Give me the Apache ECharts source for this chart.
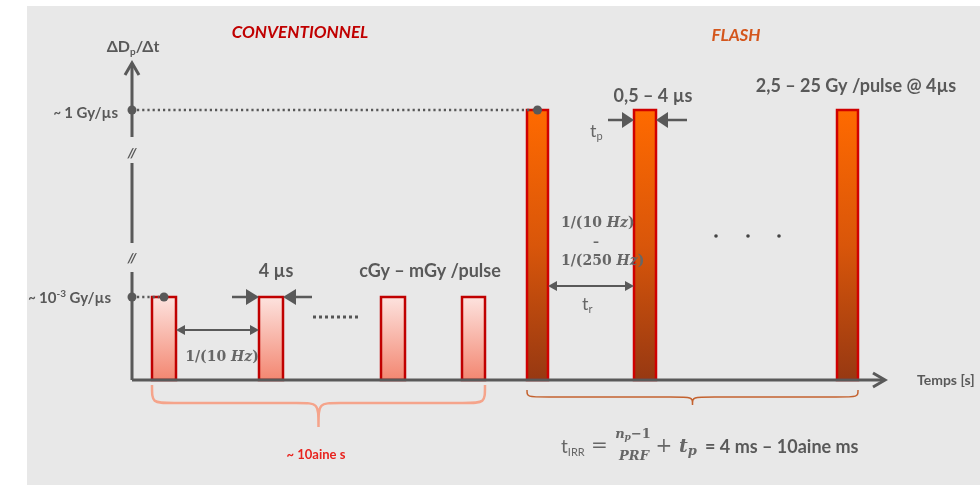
<!DOCTYPE html>
<html>
<head>
<meta charset="utf-8">
<script src="https://cdn.jsdelivr.net/npm/echarts@6/dist/echarts.min.js"></script>
<style>
  html, body { margin: 0; background: #fff; }
  #main { width: 980px; height: 485px; }
</style>
</head>
<body>
<div id="main"></div>
<script>
// pulses: [debut, fin] sur l'axe du temps (unites schematiques)
var convPulses = [[2.0, 4.4], [12.7, 15.1], [24.9, 27.3], [33.0, 35.3]];
var flashPulses = [[39.5, 41.6], [50.2, 52.4], [70.5, 72.6]];
// niveaux de debit de dose (unites schematiques)
var convLevel = 8.3;
var flashLevel = 27.0;
var yTickLabels = ['~ 1 Gy/µs', '~ 10-3 Gy/µs'];
// segments visibles de l'axe vertical (coupures //)
var yAxisSegments = [[0, 10.8], [13.7, 21.7], [24.3, 31.7]];
var yBreaks = [12.2, 22.7];
var xMax = 75.3, yMax = 31.7;

var GREY = '#595959';
var FONT = 'Lato, "Open Sans", sans-serif';
var MATH = '"DejaVu Serif", serif';

var myChart = echarts.init(document.getElementById('main'), null, { renderer: 'canvas' });

function withLevel(pulses, level) {
    return pulses.map(function (p) { return [p[0], p[1], level]; });
}

function pulseRender(gradient, stroke) {
    return function (params, api) {
        var tl = api.coord([api.value(0), api.value(2)]);
        var br = api.coord([api.value(1), 0]);
        return {
            type: 'rect',
            shape: { x: tl[0], y: tl[1], width: br[0] - tl[0], height: br[1] - tl[1] },
            style: { fill: gradient, stroke: stroke, lineWidth: 2.5 }
        };
    };
}

function chevron(tip, dir, len, half) {
    // dir: 'up' | 'right'
    var pts = dir === 'up'
        ? [[tip[0] - half, tip[1] + len], tip, [tip[0] + half, tip[1] + len]]
        : [[tip[0] - len, tip[1] - half], tip, [tip[0] - len, tip[1] + half]];
    return { type: 'polyline', shape: { points: pts }, style: { stroke: GREY, lineWidth: 3, fill: null, lineJoin: 'miter' } };
}

// fleche pleine : tip = pointe, tail = queue
function arrow(tail, tip, len, half, width) {
    var dx = tip[0] - tail[0], dy = tip[1] - tail[1];
    var d = Math.sqrt(dx * dx + dy * dy), ux = dx / d, uy = dy / d;
    var base = [tip[0] - ux * len, tip[1] - uy * len];
    return [
        { type: 'line', shape: { x1: tail[0], y1: tail[1], x2: base[0], y2: base[1] }, style: { stroke: GREY, lineWidth: width } },
        { type: 'polygon', shape: { points: [tip, [base[0] - uy * half, base[1] + ux * half], [base[0] + uy * half, base[1] - ux * half]] }, style: { fill: GREY } }
    ];
}

function brace(x0, x1, yb, top, mid, tip, color, w) {
    var xm = (x0 + x1) / 2, yt = yb + top, ym = yb + mid, yp = yb + tip;
    var r = 22;
    var d = 'M' + x0 + ',' + yt +
        ' C' + x0 + ',' + ym + ' ' + x0 + ',' + ym + ' ' + (x0 + r) + ',' + ym +
        ' L' + (xm - r) + ',' + ym +
        ' C' + xm + ',' + ym + ' ' + xm + ',' + ym + ' ' + xm + ',' + yp +
        ' C' + xm + ',' + ym + ' ' + xm + ',' + ym + ' ' + (xm + r) + ',' + ym +
        ' L' + (x1 - r) + ',' + ym +
        ' C' + x1 + ',' + ym + ' ' + x1 + ',' + ym + ' ' + x1 + ',' + yt;
    return { type: 'path', shape: { pathData: d }, style: { stroke: color, lineWidth: w, fill: null } };
}

function annotations(params, api) {
    var kids = [];
    var c = function (x, y) { return api.coord([x, y]); };
    // axe vertical (segments) + fleche
    yAxisSegments.forEach(function (s) {
        var a = c(0, s[0]), b = c(0, s[1]);
        kids.push({ type: 'line', shape: { x1: a[0], y1: a[1], x2: b[0], y2: b[1] }, style: { stroke: GREY, lineWidth: 3 } });
    });
    kids.push(chevron(c(0, yMax), 'up', 12, 7));
    // axe du temps
    var o = c(0, 0), e = c(xMax, 0);
    kids.push({ type: 'line', shape: { x1: o[0], y1: o[1], x2: e[0] - 2, y2: e[1] }, style: { stroke: GREY, lineWidth: 3 } });
    kids.push(chevron(e, 'right', 12, 7));
    // coupures
    yBreaks.forEach(function (b) {
        var p = c(0, b);
        kids.push({ type: 'text', style: { text: '//', x: p[0], y: p[1], fill: GREY, font: 'italic bold 14px ' + FONT, align: 'center', verticalAlign: 'middle' } });
    });
    // niveaux en pointilles
    [[flashLevel, flashPulses[0]], [convLevel, convPulses[0]]].forEach(function (l) {
        var a = c(0, l[0]), b = c((l[1][0] + l[1][1]) / 2, l[0]);
        kids.push({ type: 'line', shape: { x1: a[0] + 5, y1: a[1], x2: b[0] - 5, y2: b[1] }, style: { stroke: GREY, lineWidth: 2.5, lineDash: [2.2, 3] } });
        kids.push({ type: 'circle', shape: { cx: a[0], cy: a[1], r: 4.5 }, style: { fill: GREY } });
        kids.push({ type: 'circle', shape: { cx: b[0], cy: b[1], r: 4.5 }, style: { fill: GREY } });
    });
    // 4 µs
    var p1 = convPulses[1];
    kids = kids.concat(arrow(c(p1[0] - 2.7, convLevel), c(p1[0], convLevel), 13, 8, 2.5));
    kids = kids.concat(arrow(c(p1[1] + 2.9, convLevel), c(p1[1], convLevel), 13, 8, 2.5));
    // 1/(10 Hz) conventionnel
    var ya = 5.0;
    kids = kids.concat(arrow(c(convPulses[0][1] + 3, ya), c(convPulses[0][1], ya), 9, 5, 2));
    kids = kids.concat(arrow(c(p1[0] - 3, ya), c(p1[0], ya), 9, 5, 2));
    kids.push({ type: 'line', shape: { x1: c(convPulses[0][1] + 1, ya)[0], y1: c(0, ya)[1], x2: c(p1[0] - 1, ya)[0], y2: c(0, ya)[1] }, style: { stroke: GREY, lineWidth: 2 } });
    // tp
    var f1 = flashPulses[1], yt = 26.0;
    kids = kids.concat(arrow(c(f1[0] - 2.6, yt), c(f1[0], yt), 12, 8, 2.5));
    kids = kids.concat(arrow(c(f1[1] + 3.1, yt), c(f1[1], yt), 12, 8, 2.5));
    // tr
    var yr = 9.4;
    kids = kids.concat(arrow(c(flashPulses[0][1] + 3, yr), c(flashPulses[0][1], yr), 9, 5, 2));
    kids = kids.concat(arrow(c(f1[0] - 3, yr), c(f1[0], yr), 9, 5, 2));
    kids.push({ type: 'line', shape: { x1: c(flashPulses[0][1] + 1, yr)[0], y1: c(0, yr)[1], x2: c(f1[0] - 1, yr)[0], y2: c(0, yr)[1] }, style: { stroke: GREY, lineWidth: 2 } });
    // accolades
    var last = convPulses[convPulses.length - 1];
    kids.push(brace(c(convPulses[0][0], 0)[0], c(last[1], 0)[0], o[1], 5, 23, 47, '#f5a48b', 2.5));
    var lastF = flashPulses[flashPulses.length - 1];
    kids.push(brace(c(flashPulses[0][0], 0)[0], c(lastF[1], 0)[0], o[1], 10, 17, 25, '#c4622f', 1.5));
    return { type: 'group', children: kids };
}

function txt(x, y, text, font, fill, align, rich) {
    var s = { text: text, x: 0, y: 0, fill: fill || GREY, font: font, textAlign: align || 'center', textVerticalAlign: 'middle' };
    if (rich) s.rich = rich;
    return { type: 'text', x: x, y: y, z: 50, style: s };
}
var B16 = 'bold 18px ' + FONT;
var mathRich = {
    m: { fontFamily: MATH, fontWeight: 'bold', fontSize: 14, fill: '#666' },
    i: { fontFamily: MATH, fontWeight: 'bold', fontStyle: 'italic', fontSize: 14, fill: '#666' }
};

myChart.setOption({
    backgroundColor: '#ffffff',
    animation: false,
    grid: { left: 132, right: 95, top: 63, bottom: 105 },
    xAxis: { type: 'value', min: 0, max: xMax, show: false },
    yAxis: { type: 'value', min: 0, max: yMax, show: false },
    graphic: {
        elements: [
            { type: 'rect', z: -100, shape: { x: 27, y: 6, width: 953, height: 479 }, style: { fill: '#e8e8e8' } },
            txt(300, 33, 'CONVENTIONNEL', 'italic bold 17px ' + FONT, '#c00000'),
            txt(736, 36, 'FLASH', 'italic bold 17px ' + FONT, '#d4561c'),
            txt(133, 47, '{a|ΔD}{s|p}{a|/Δt}', '', GREY, 'center', {
                a: { fontFamily: FONT, fontWeight: 'bold', fontSize: 16, fill: GREY },
                s: { fontFamily: FONT, fontWeight: 'bold', fontSize: 10, fill: GREY, padding: [10, 0, 0, 0] }
            }),
            txt(118, 113, '{t|~ }{a|1 Gy/µs}', '', GREY, 'right', {
                t: { fontFamily: FONT, fontWeight: 'bold', fontSize: 13, fill: GREY },
                a: { fontFamily: FONT, fontWeight: 'bold', fontSize: 15, fill: GREY }
            }),
            txt(111, 298, '{t|~ }{a|10}{s|-3}{a| Gy/µs}', '', GREY, 'right', {
                t: { fontFamily: FONT, fontWeight: 'bold', fontSize: 13, fill: GREY },
                a: { fontFamily: FONT, fontWeight: 'bold', fontSize: 15, fill: GREY },
                s: { fontFamily: FONT, fontWeight: 'bold', fontSize: 10, fill: GREY, padding: [0, 0, 8, 0] }
            }),
            txt(276, 271, '4 µs', B16),
            txt(430, 271, 'cGy – mGy /pulse', B16),
            txt(222, 357, '{m|1/(10 }{i|Hz}{m|)}', '', GREY, 'center', mathRich),
            { type: 'line', shape: { x1: 313, y1: 317, x2: 360, y2: 317 }, style: { stroke: '#555', lineWidth: 3, lineDash: [3, 3] } },
            txt(316, 455, '~ 10aine s', 'bold 13px ' + FONT, '#e8231e'),
            txt(653, 96, '0,5 – 4 µs', B16),
            txt(856, 86, '2,5 – 25 Gy /pulse @ 4µs', B16),
            txt(590, 131, '{t|t}{s|p}', '', GREY, 'left', {
                t: { fontFamily: FONT, fontSize: 18, fill: '#666' },
                s: { fontFamily: FONT, fontSize: 11, fill: '#666', padding: [10, 0, 0, 0] }
            }),
            txt(582, 304, '{t|t}{s|r}', '', GREY, 'left', {
                t: { fontFamily: FONT, fontSize: 18, fill: '#666' },
                s: { fontFamily: FONT, fontSize: 11, fill: '#666', padding: [10, 0, 0, 0] }
            }),
            txt(561, 223, '{m|1/(10 }{i|Hz}{m|)}', '', GREY, 'left', mathRich),
            txt(596, 243, '–', 'bold 12px ' + MATH, '#666'),
            txt(561, 261, '{m|1/(250 }{i|Hz}{m|)}', '', GREY, 'left', mathRich),
            { type: 'circle', shape: { cx: 716, cy: 236, r: 1.8 }, style: { fill: '#444' } },
            { type: 'circle', shape: { cx: 748, cy: 236, r: 1.8 }, style: { fill: '#444' } },
            { type: 'circle', shape: { cx: 779, cy: 236, r: 1.8 }, style: { fill: '#444' } },
            txt(917, 380, 'Temps [s]', 'bold 14px ' + FONT, GREY, 'left'),
            // formule t_IRR
            txt(561, 447, '{t|t}{s|IRR}{e| = }', '', GREY, 'left', {
                t: { fontFamily: FONT, fontSize: 19, fill: '#666' },
                s: { fontFamily: FONT, fontSize: 11, fill: '#666', padding: [10, 0, 0, 0] },
                e: { fontFamily: MATH, fontSize: 20, fill: '#666' }
            }),
            txt(633, 435, '{i|n}{s|p}{m|−1}', '', GREY, 'center', {
                i: { fontFamily: MATH, fontStyle: 'italic', fontWeight: 'bold', fontSize: 13, fill: '#666' },
                s: { fontFamily: MATH, fontStyle: 'italic', fontWeight: 'bold', fontSize: 9, fill: '#666', padding: [6, 0, 0, 0] },
                m: { fontFamily: MATH, fontWeight: 'bold', fontSize: 13, fill: '#666' }
            }),
            txt(634, 457, 'PRF', 'italic bold 13px ' + MATH, '#666'),
            txt(664, 447, '+', '20px ' + MATH, '#666'),
            txt(679, 447, '{i|t}{s|p}', '', GREY, 'left', {
                i: { fontFamily: MATH, fontStyle: 'italic', fontWeight: 'bold', fontSize: 19, fill: '#666' },
                s: { fontFamily: MATH, fontStyle: 'italic', fontWeight: 'bold', fontSize: 13, fill: '#666', padding: [10, 0, 0, 0] }
            }),
            txt(705, 447, '= 4 ms – 10aine ms', 'bold 18px ' + FONT, GREY, 'left')
        ]
    },
    series: [
        {
            type: 'custom',
            name: 'conventionnel',
            data: withLevel(convPulses, convLevel),
            encode: { x: [0, 1], y: 2 },
            z: 5,
            renderItem: pulseRender({ type: 'linear', x: 0, y: 0, x2: 0, y2: 1, colorStops: [{ offset: 0, color: '#fde4e0' }, { offset: 1, color: '#f3856f' }] }, '#c00000')
        },
        {
            type: 'custom',
            name: 'flash',
            data: withLevel(flashPulses, flashLevel),
            encode: { x: [0, 1], y: 2 },
            z: 5,
            renderItem: pulseRender({ type: 'linear', x: 0, y: 0, x2: 0, y2: 1, colorStops: [{ offset: 0, color: '#ff6a00' }, { offset: 0.5, color: '#d9560a' }, { offset: 1, color: '#963812' }] }, '#d00000')
        },
        {
            type: 'custom',
            name: 'axes',
            data: [[0, 0]],
            z: 10,
            renderItem: annotations
        }
    ]
});
</script>
</body>
</html>
